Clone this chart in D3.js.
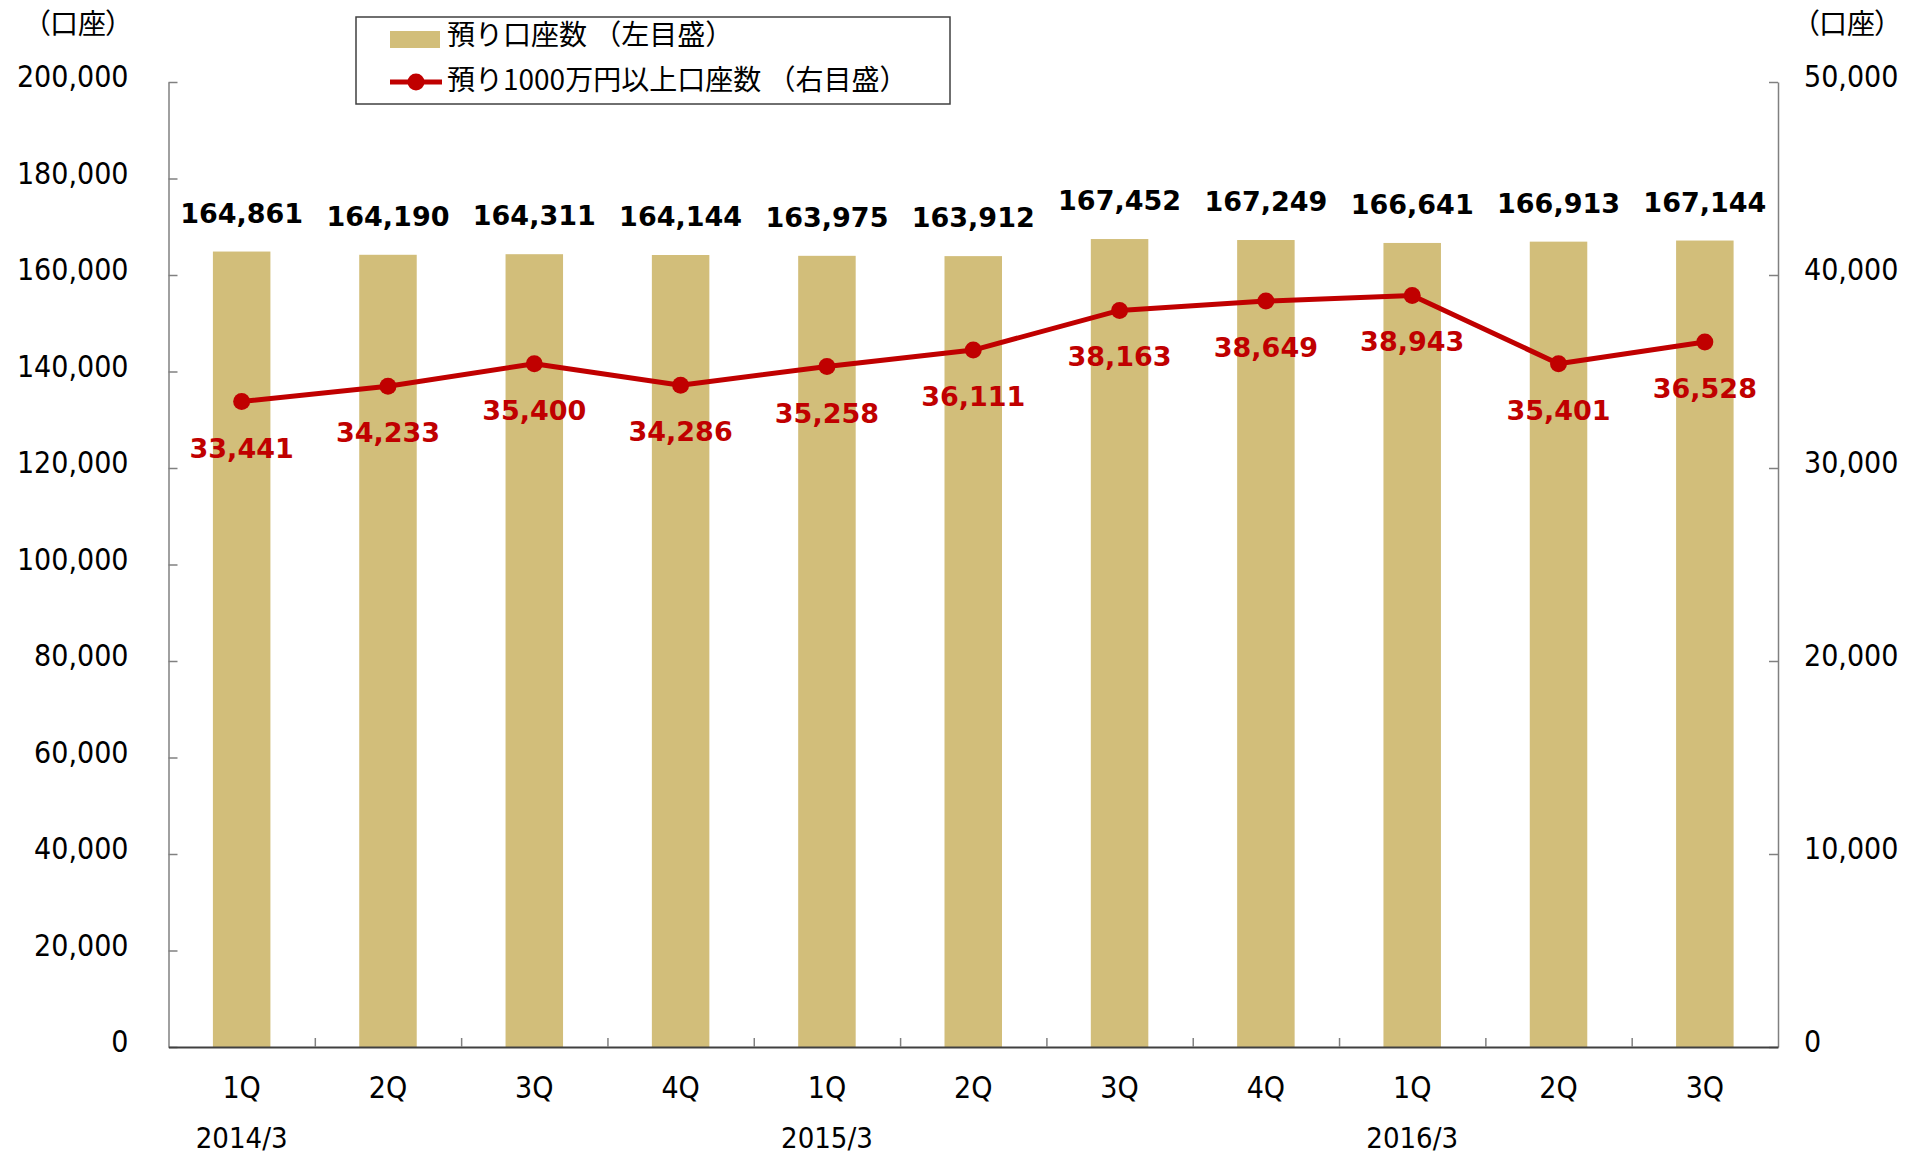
<!DOCTYPE html>
<html><head><meta charset="utf-8">
<script src="https://cdn.jsdelivr.net/npm/d3@7"></script>
<style>
body{margin:0;background:#fff}
.num{font-family:'DejaVu Sans Condensed','DejaVu Sans',sans-serif;font-stretch:condensed;}
.jp{font-family:'Noto Sans CJK JP',sans-serif;}
.palt{font-feature-settings:'palt';}
.bold{font-family:'DejaVu Sans',sans-serif;font-weight:bold;}
</style></head>
<body>
<svg id="c" width="1915" height="1156"></svg>
<script>
const categories = ["1Q","2Q","3Q","4Q","1Q","2Q","3Q","4Q","1Q","2Q","3Q"];
const fiscalYears = ["2014/3","","","","2015/3","","","","2016/3","",""];
const accounts = [164861,164190,164311,164144,163975,163912,167452,167249,166641,166913,167144];
const largeAccounts = [33441,34233,35400,34286,35258,36111,38163,38649,38943,35401,36528];
const leftTicks = [0,20000,40000,60000,80000,100000,120000,140000,160000,180000,200000];
const rightTicks = [0,10000,20000,30000,40000,50000];
const legendLabels = ["預り口座数 （左目盛）","預り1000万円以上口座数 （右目盛）"];
const unitLabel = "（口座）";

const svg = d3.select("#c");
const L = 168.5, R = 1778, T = 82, B = 1047;
const fmt = d3.format(",");
const barColor = "#D2BE7A", lineColor = "#C00000", axisColor = "#808080";

const idx = d3.range(categories.length);
const x = d3.scaleBand().domain(idx).range([L, R]).paddingInner(0.607).paddingOuter(0.3035);
const xc = i => x(i) + x.bandwidth() / 2;
const xb = d3.scaleLinear().domain([0, categories.length]).range([L, R]);
const yL = d3.scaleLinear().domain([0, 200000]).range([B, T]);
const yR = d3.scaleLinear().domain([0, 50000]).range([B, T]);

// bars
svg.append("g").selectAll("rect").data(accounts).join("rect")
  .attr("x", (d, i) => x(i)).attr("width", x.bandwidth())
  .attr("y", d => yL(d)).attr("height", d => B - yL(d))
  .attr("fill", barColor);

// axes
const gl = svg.append("g").attr("transform", `translate(${L},0)`)
  .call(d3.axisLeft(yL).tickValues(leftTicks).tickFormat(fmt).tickSize(-9).tickSizeOuter(0).tickPadding(40));
const gr = svg.append("g").attr("transform", `translate(${R},0)`)
  .call(d3.axisRight(yR).tickValues(rightTicks).tickFormat(fmt).tickSize(-9).tickSizeOuter(0).tickPadding(26));
const gb = svg.append("g").attr("transform", `translate(0,${B})`)
  .call(d3.axisBottom(xb).tickValues(d3.range(1, categories.length)).tickFormat("").tickSize(-9).tickSizeOuter(0));
[gl, gr, gb].forEach(g => {
  g.selectAll("path,line").attr("stroke", axisColor).attr("stroke-width", 1.5);
  g.selectAll("text").attr("class", "num").attr("font-size", 30).attr("fill", "#000");
});
[gl, gr].forEach(g => g.selectAll(".tick text").attr("y", -5));
gb.select(".domain").attr("stroke", "#404040").attr("stroke-width", 2);

// category labels
svg.append("g").selectAll("text").data(categories).join("text")
  .attr("class", "num").attr("font-size", 30).attr("text-anchor", "middle")
  .attr("x", (d, i) => xc(i)).attr("y", 1098).text(d => d);
svg.append("g").selectAll("text").data(fiscalYears).join("text")
  .attr("class", "num").attr("font-size", 29).attr("text-anchor", "middle")
  .attr("x", (d, i) => xc(i)).attr("y", 1148).text(d => d);

// bar labels
svg.append("g").selectAll("text").data(accounts).join("text")
  .attr("class", "bold").attr("font-size", 27).attr("text-anchor", "middle")
  .attr("x", (d, i) => xc(i)).attr("y", d => yL(d) - 29).attr("fill", "#000").text(fmt);

// line
const line = d3.line().x((d, i) => xc(i)).y(d => yR(d));
svg.append("path").datum(largeAccounts).attr("d", line)
  .attr("fill", "none").attr("stroke", lineColor).attr("stroke-width", 5).attr("stroke-linejoin", "round");
svg.append("g").selectAll("circle").data(largeAccounts).join("circle")
  .attr("cx", (d, i) => xc(i)).attr("cy", d => yR(d)).attr("r", 8.5).attr("fill", lineColor);
svg.append("g").selectAll("text").data(largeAccounts).join("text")
  .attr("class", "bold").attr("font-size", 27).attr("text-anchor", "middle").attr("fill", lineColor)
  .attr("x", (d, i) => xc(i)).attr("y", d => yR(d) + 56).text(fmt);

// unit labels
svg.append("text").attr("class", "jp palt").attr("font-size", 28).attr("x", 36).attr("y", 34).text(unitLabel);
svg.append("text").attr("class", "jp palt").attr("font-size", 28).attr("x", 1805).attr("y", 34).text(unitLabel);

// legend
const lg = svg.append("g");
lg.append("rect").attr("x", 356).attr("y", 17).attr("width", 594).attr("height", 87)
  .attr("fill", "#fff").attr("stroke", "#404040").attr("stroke-width", 1.5);
lg.append("rect").attr("x", 390).attr("y", 31).attr("width", 50).attr("height", 17).attr("fill", barColor);
lg.append("line").attr("x1", 390).attr("x2", 442).attr("y1", 82).attr("y2", 82)
  .attr("stroke", lineColor).attr("stroke-width", 5);
lg.append("circle").attr("cx", 416).attr("cy", 82).attr("r", 8.5).attr("fill", lineColor);
lg.selectAll("text.l").data(legendLabels).join("text").attr("class", "jp l")
  .attr("font-size", 28).attr("x", 447).attr("y", (d, i) => 33 + i * 45)
  .attr("dominant-baseline", "central").text(d => d);
</script>
</body></html>
